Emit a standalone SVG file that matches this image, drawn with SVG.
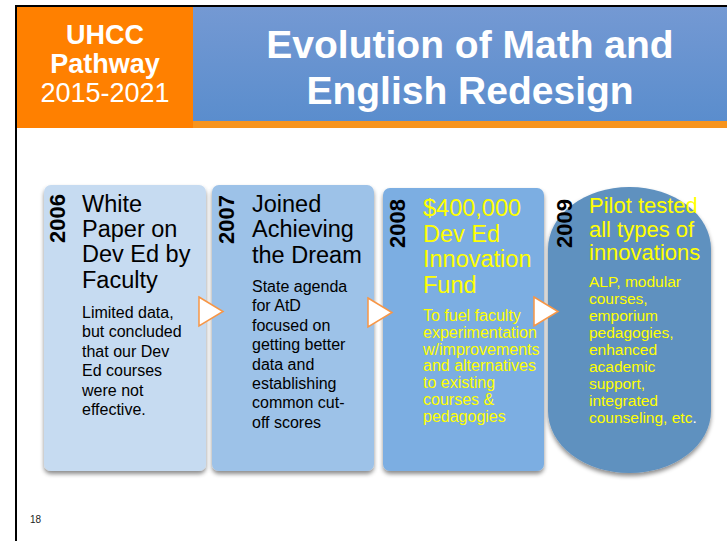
<svg xmlns="http://www.w3.org/2000/svg" width="727" height="541" viewBox="0 0 727 541">
<defs>
<linearGradient id="banner" x1="0" y1="0" x2="0" y2="1">
<stop offset="0" stop-color="#7499D3"/>
<stop offset="1" stop-color="#5A8DCD"/>
</linearGradient>
<filter id="sh" x="-10%" y="-10%" width="120%" height="120%">
<feDropShadow dx="0" dy="3" stdDeviation="2" flood-color="#000" flood-opacity="0.45"/>
</filter>
<style>
text{font-family:"Liberation Sans",Arial,sans-serif;}
.yr{font-size:22px;font-weight:bold;fill:#000;}
.tt{font-size:23.5px;fill:#000;}
.bd{font-size:16px;fill:#000;}
.yl{fill:#FFFF00;}
.arr{fill:#fff;stroke:#F79646;stroke-width:1.5;stroke-linejoin:miter;}
.hd{fill:#fff;font-weight:bold;}
</style>
</defs>
<rect x="0" y="0" width="727" height="541" fill="#fff"/>
<!-- header -->
<g id="header">
<rect x="17" y="7" width="176" height="121" fill="#FF8000"/>
<rect x="193" y="7" width="534" height="115" fill="url(#banner)"/>
<rect x="193" y="121" width="534" height="7" fill="#F7941D"/>
<text x="105" y="44" text-anchor="middle" class="hd" font-size="27">UHCC</text>
<text x="105" y="73" text-anchor="middle" class="hd" font-size="27">Pathway</text>
<text x="105" y="102" text-anchor="middle" fill="#fff" font-size="27">2015-2021</text>
<text x="470" y="58" text-anchor="middle" class="hd" font-size="39">Evolution of Math and</text>
<text x="470" y="104" text-anchor="middle" class="hd" font-size="39">English Redesign</text>
</g>
<path d="M16 541 V6 H727" fill="none" stroke="#000" stroke-width="2"/>
<!-- nodes -->
<g id="n2006">
<rect x="44" y="185" width="162" height="286" rx="7" fill="#C6DBF1" filter="url(#sh)"/>
<text class="yr" transform="translate(65,243) rotate(-90)">2006</text>
<text class="tt" x="82" y="212">White</text>
<text class="tt" x="82" y="237">Paper on</text>
<text class="tt" x="82" y="262">Dev Ed by</text>
<text class="tt" x="82" y="288">Faculty</text>
<text class="bd" x="82" y="318">Limited data,</text>
<text class="bd" x="82" y="337.4">but concluded</text>
<text class="bd" x="82" y="356.8">that our Dev</text>
<text class="bd" x="82" y="376.2">Ed courses</text>
<text class="bd" x="82" y="395.6">were not</text>
<text class="bd" x="82" y="415">effective.</text>
</g>
<g id="n2007">
<rect x="212" y="185" width="162" height="286" rx="7" fill="#9DC2E8" filter="url(#sh)"/>
<text class="yr" transform="translate(234,244) rotate(-90)">2007</text>
<text class="tt" x="252" y="212">Joined</text>
<text class="tt" x="252" y="237">Achieving</text>
<text class="tt" x="252" y="263">the Dream</text>
<text class="bd" x="252" y="292">State agenda</text>
<text class="bd" x="252" y="311.4">for AtD</text>
<text class="bd" x="252" y="330.8">focused on</text>
<text class="bd" x="252" y="350.2">getting better</text>
<text class="bd" x="252" y="369.6">data and</text>
<text class="bd" x="252" y="389">establishing</text>
<text class="bd" x="252" y="408.4">common cut-</text>
<text class="bd" x="252" y="428">off scores</text>
</g>
<g id="n2008">
<rect x="383" y="188" width="161" height="283" rx="7" fill="#7BAEE2" filter="url(#sh)"/>
<text class="yr" transform="translate(405,248) rotate(-90)">2008</text>
<text class="tt yl" x="423" y="216">$400,000</text>
<text class="tt yl" x="423" y="242">Dev Ed</text>
<text class="tt yl" x="423" y="267">Innovation</text>
<text class="tt yl" x="423" y="293">Fund</text>
<text class="bd yl" x="423" y="321">To fuel faculty</text>
<text class="bd yl" x="423" y="337.8">experimentation</text>
<text class="bd yl" x="423" y="354.6">w/improvements</text>
<text class="bd yl" x="423" y="371.4">and alternatives</text>
<text class="bd yl" x="423" y="388.2">to existing</text>
<text class="bd yl" x="423" y="405">courses &amp;</text>
<text class="bd yl" x="423" y="421.8">pedagogies</text>
</g>
<g id="n2009">
<rect x="548" y="187" width="163" height="286" rx="81" ry="62" fill="#5F91BF" filter="url(#sh)"/>
<text class="yr" transform="translate(572,248) rotate(-90)">2009</text>
<text class="yl" font-size="22" x="589" y="213">Pilot tested</text>
<text class="yl" font-size="22" x="589" y="237">all types of</text>
<text class="yl" font-size="22" x="589" y="260">innovations</text>
<g class="yl" font-size="15.5">
<text x="589" y="287">ALP, modular</text>
<text x="589" y="304">courses,</text>
<text x="589" y="321">emporium</text>
<text x="589" y="338">pedagogies,</text>
<text x="589" y="355">enhanced</text>
<text x="589" y="372">academic</text>
<text x="589" y="389">support,</text>
<text x="589" y="406">integrated</text>
<text x="589" y="423">counseling, etc<tspan fill="#fff">.</tspan></text>
</g>
</g>
<!-- connectors -->
<g id="connectors">
<polygon class="arr" points="199,297 223,311.5 199,326"/>
<polygon class="arr" points="368,298 392,312.5 368,327"/>
<polygon class="arr" points="534,297 558,311.5 534,326"/>
</g>
<text x="30" y="523" font-size="10" fill="#222">18</text>
</svg>
